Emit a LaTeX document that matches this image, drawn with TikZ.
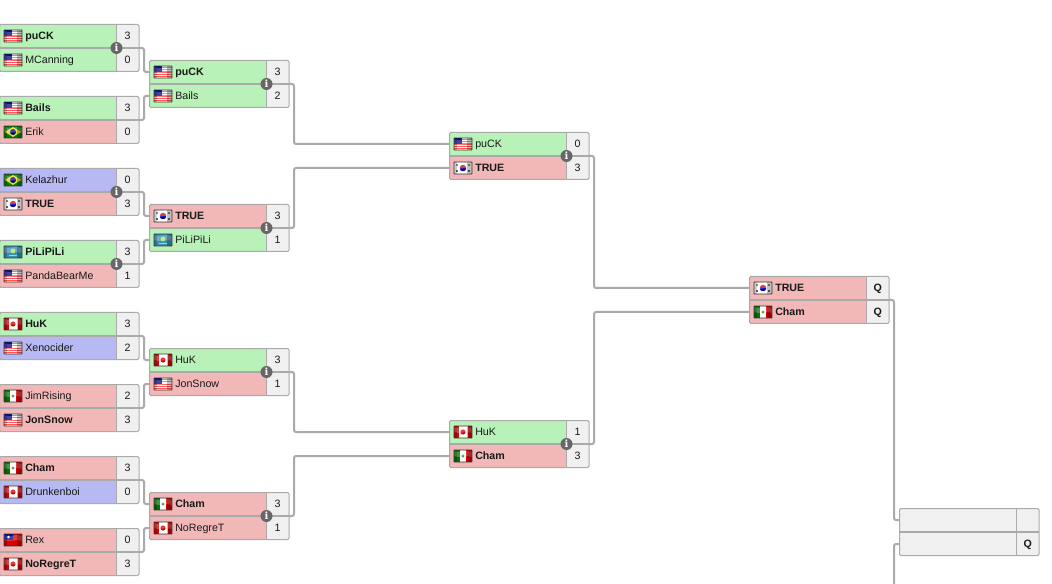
\documentclass[tikz,border=0pt]{standalone}
\usepackage{fontspec}
\setmainfont{Liberation Sans}
\newfontfamily\infofont{DejaVu Serif}
\definecolor{cwin}{HTML}{B8F2B8}
\definecolor{close}{HTML}{F2B8B8}
\definecolor{cdn}{HTML}{B8B8F2}
\definecolor{cgr}{HTML}{F0F0F0}
\definecolor{cbd}{HTML}{AAAAAA}
\definecolor{cinfo}{HTML}{666666}
\tikzset{
  conn/.style={draw=cbd,line width=1.5pt,rounded corners=1.5pt},
  namecell/.style={inner sep=0,anchor=base west,text=black!90,font=\fontsize{8}{9}\selectfont},
  scorecell/.style={inner sep=0,anchor=base,text=black!90,font=\fontsize{8}{9}\selectfont},
  info/.style={circle,fill=cinfo,minimum size=9pt,inner sep=0,text=white,font=\fontsize{7.5}{7.5}\infofont\bfseries\selectfont},
}
\newcommand{\frm}[2]{%
 \fill[white,opacity=.25] (#1,#2+1) .. controls (#1+6,#2+4) and (#1+12,#2-1) .. (#1+18,#2+2) -- (#1+18,#2+7) .. controls (#1+12,#2+4) and (#1+6,#2+9) .. (#1,#2+6) -- cycle;
 \fill[black,opacity=.25] (#1+13,#2) rectangle ++(5,12);
 \fill[black,opacity=.2] (#1,#2) rectangle ++(2.5,12);
 \draw[black!80,line width=.7pt,rounded corners=.4pt] (#1,#2) rectangle ++(18,12);}
\newcommand{\flagus}[2]{\fill[white] (#1,#2) rectangle ++(18,12);
 \foreach \k in {1,3,5,7,9}{\fill[red!65!white] (#1,#2+\k*1.1) rectangle ++(18,1.1);}
 \fill[blue!55!black] (#1,#2) rectangle ++(8,6);\frm{#1}{#2}}
\newcommand{\flagbr}[2]{\fill[green!50!black] (#1,#2) rectangle ++(18,12);
 \fill[yellow!90!black] (#1+1,#2+6)--(#1+9,#2+1)--(#1+17,#2+6)--(#1+9,#2+11)--cycle;
 \fill[blue!55!black] (#1+9,#2+6) circle (3);\frm{#1}{#2}}
\newcommand{\flagkr}[2]{\fill[white] (#1,#2) rectangle ++(18,12);
 \fill[red!80!black] (#1+9,#2+6) circle (3.2);
 \fill[blue!70!black] (#1+5.8,#2+6) arc (180:0:3.2) -- cycle;
 \foreach \a/\b in {3/3,15/3,3/9,15/9}{\fill[black!60] (#1+\a-1.3,#2+\b-1) rectangle ++(2.6,2);}\frm{#1}{#2}}
\newcommand{\flagca}[2]{\fill[white] (#1,#2) rectangle ++(18,12);
 \fill[red!85!black] (#1,#2) rectangle ++(4.5,12);
 \fill[red!85!black] (#1+13.5,#2) rectangle ++(4.5,12);
 \fill[red!85!black] (#1+9,#2+6) circle (2.6);\frm{#1}{#2}}
\newcommand{\flagmx}[2]{\fill[white] (#1,#2) rectangle ++(18,12);
 \fill[green!45!black] (#1,#2) rectangle ++(6,12);
 \fill[red!85!black] (#1+12,#2) rectangle ++(6,12);
 \fill[green!30!black!70] (#1+9,#2+6) circle (1.6);\frm{#1}{#2}}
\newcommand{\flagww}[2]{\fill[cyan!70!black] (#1,#2) rectangle ++(18,12);
 \fill[yellow!70!cyan] (#1+9,#2+5) circle (2.4);
 \draw[yellow!70!cyan,line width=.4pt] (#1+5,#2+9) -- (#1+13,#2+9);\frm{#1}{#2}}
\newcommand{\flagrx}[2]{\fill[red!85!black] (#1,#2) rectangle ++(18,12);
 \fill[blue!55!black] (#1,#2) rectangle ++(9,6);
 \fill[white] (#1+4.5,#2+3) circle (1.4);\frm{#1}{#2}}
\newcommand{\match}[9]{%
 \fill[#4] (#2,#3-23.5) rectangle (#2+117,#3);
 \fill[cgr] (#2+117,#3-23.5) rectangle (#2+139.5,#3+23.5);
 \fill[#7] (#2,#3) rectangle (#2+117,#3+23.5);
 \draw[cbd,line width=.75pt] (#2+117,#3-23.5)--(#2+117,#3+23.5);
 \draw[cbd,line width=.75pt,rounded corners=1pt] (#2,#3-23.5) rectangle (#2+139.5,#3+23.5);
 \draw[cbd,line width=1.5pt] (#2,#3)--(#2+139.5,#3);
 \coordinate (#1out) at (#2+139.5,#3);
 \coordinate (#1up) at (#2,#3-12);
 \coordinate (#1dn) at (#2,#3+12);
 \node[namecell] (#1a) at (#2+25.5,#3-8.2) {#6};
 \node[scorecell] (#1as) at (#2+128.2,#3-8.2) {#8};
 \node[namecell] (#1b) at (#2+25.5,#3+15.8) {#9};
 #5
}
\newcommand{\scoreb}[4]{\node[scorecell] (#1) at (#2+128.2,#3+15.8) {#4};}
\newcommand{\infoicon}[3]{\node[info] (#1) at (#2+117,#3) {i};}
\begin{document}
\begin{tikzpicture}[x=0.75pt,y=-0.75pt]
\useasboundingbox (0,0) rectangle (1052,584);
% round 1
\match{m1}{-0.5}{48}{cwin}{\flagus{4}{30}\flagus{4}{54}}{\textbf{puCK}}{cwin}{3}{MCanning}
\scoreb{m1bs}{-0.5}{48}{0}\infoicon{m1i}{-0.5}{48}
\match{m2}{-0.5}{120}{cwin}{\flagus{4}{102}\flagbr{4}{126}}{\textbf{Bails}}{close}{3}{Erik}
\scoreb{m2bs}{-0.5}{120}{0}
\match{m3}{-0.5}{192}{cdn}{\flagbr{4}{174}\flagkr{4}{198}}{Kelazhur}{close}{0}{\textbf{TRUE}}
\scoreb{m3bs}{-0.5}{192}{3}\infoicon{m3i}{-0.5}{192}
\match{m4}{-0.5}{264}{cwin}{\flagww{4}{246}\flagus{4}{270}}{\textbf{PiLiPiLi}}{close}{3}{PandaBearMe}
\scoreb{m4bs}{-0.5}{264}{1}\infoicon{m4i}{-0.5}{264}
\match{m5}{-0.5}{336}{cwin}{\flagca{4}{318}\flagus{4}{342}}{\textbf{HuK}}{cdn}{3}{Xenocider}
\scoreb{m5bs}{-0.5}{336}{2}
\match{m6}{-0.5}{408}{close}{\flagmx{4}{390}\flagus{4}{414}}{JimRising}{close}{2}{\textbf{JonSnow}}
\scoreb{m6bs}{-0.5}{408}{3}
\match{m7}{-0.5}{480}{close}{\flagmx{4}{462}\flagca{4}{486}}{\textbf{Cham}}{cdn}{3}{Drunkenboi}
\scoreb{m7bs}{-0.5}{480}{0}
\match{m8}{-0.5}{552}{close}{\flagrx{4}{534}\flagca{4}{558}}{Rex}{close}{0}{\textbf{NoRegreT}}
\scoreb{m8bs}{-0.5}{552}{3}
% round 2
\match{q1}{149.5}{84}{cwin}{\flagus{154}{66}\flagus{154}{90}}{\textbf{puCK}}{cwin}{3}{Bails}
\scoreb{q1bs}{149.5}{84}{2}\infoicon{q1i}{149.5}{84}
\match{q2}{149.5}{228}{close}{\flagkr{154}{210}\flagww{154}{234}}{\textbf{TRUE}}{cwin}{3}{PiLiPiLi}
\scoreb{q2bs}{149.5}{228}{1}\infoicon{q2i}{149.5}{228}
\match{q3}{149.5}{372}{cwin}{\flagca{154}{354}\flagus{154}{378}}{HuK}{close}{3}{JonSnow}
\scoreb{q3bs}{149.5}{372}{1}\infoicon{q3i}{149.5}{372}
\match{q4}{149.5}{516}{close}{\flagmx{154}{498}\flagca{154}{522}}{\textbf{Cham}}{close}{3}{NoRegreT}
\scoreb{q4bs}{149.5}{516}{1}\infoicon{q4i}{149.5}{516}
% round 3
\match{s1}{449.5}{156}{cwin}{\flagus{454}{138}\flagkr{454}{162}}{puCK}{close}{0}{\textbf{TRUE}}
\scoreb{s1bs}{449.5}{156}{3}\infoicon{s1i}{449.5}{156}
\match{s2}{449.5}{444}{cwin}{\flagca{454}{426}\flagmx{454}{450}}{HuK}{close}{1}{\textbf{Cham}}
\scoreb{s2bs}{449.5}{444}{3}\infoicon{s2i}{449.5}{444}
% round 4
\match{f1}{749.5}{300}{close}{\flagkr{754}{282}\flagmx{754}{306}}{\textbf{TRUE}}{close}{\textbf{Q}}{\textbf{Cham}}
\scoreb{f1bs}{749.5}{300}{\textbf{Q}}
% round 5
\match{g1}{899.5}{532}{cgr}{}{}{cgr}{}{}
\scoreb{g1bs}{899.5}{532}{\textbf{Q}}
% connectors
\coordinate (fe) at (894,584);
\draw[conn] (m1out) -- ++(5,0) |- (q1up);
\draw[conn] (m2out) -- ++(5,0) |- (q1dn);
\draw[conn] (m3out) -- ++(5,0) |- (q2up);
\draw[conn] (m4out) -- ++(5,0) |- (q2dn);
\draw[conn] (m5out) -- ++(5,0) |- (q3up);
\draw[conn] (m6out) -- ++(5,0) |- (q3dn);
\draw[conn] (m7out) -- ++(5,0) |- (q4up);
\draw[conn] (m8out) -- ++(5,0) |- (q4dn);
\draw[conn] (q1out) -- ++(5,0) |- (s1up);
\draw[conn] (q2out) -- ++(5,0) |- (s1dn);
\draw[conn] (q3out) -- ++(5,0) |- (s2up);
\draw[conn] (q4out) -- ++(5,0) |- (s2dn);
\draw[conn] (s1out) -- ++(5,0) |- (f1up);
\draw[conn] (s2out) -- ++(5,0) |- (f1dn);
\draw[conn] (f1out) -- ++(5,0) |- (g1up);
\draw[conn] (fe) |- (g1dn);
\end{tikzpicture}
\end{document}
